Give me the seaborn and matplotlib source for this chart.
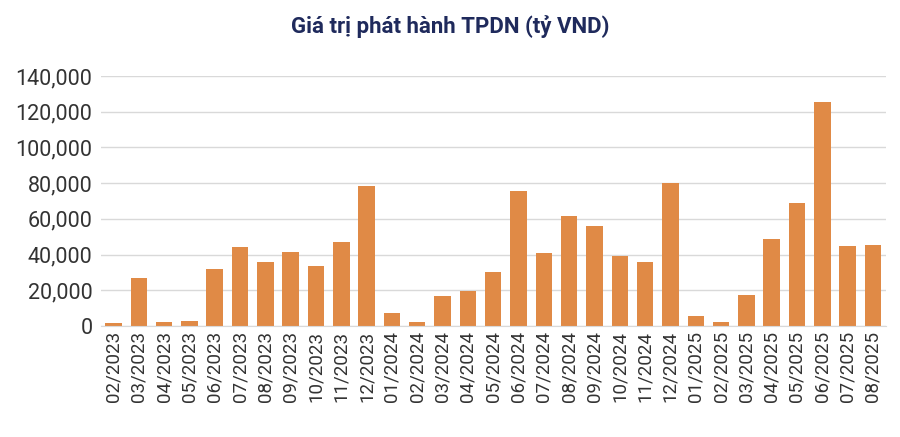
import matplotlib
matplotlib.use("Agg")
import matplotlib.pyplot as plt
import seaborn as sns
import pandas as pd
from matplotlib.ticker import FuncFormatter

plt.rcParams["font.family"] = "Roboto"

months = ["02/2023","03/2023","04/2023","05/2023","06/2023","07/2023","08/2023","09/2023","10/2023","11/2023","12/2023",
          "01/2024","02/2024","03/2024","04/2024","05/2024","06/2024","07/2024","08/2024","09/2024","10/2024","11/2024","12/2024",
          "01/2025","02/2025","03/2025","04/2025","05/2025","06/2025","07/2025","08/2025"]
values = [1500,27000,2000,3000,32000,44000,36000,41500,33500,47000,78500,
          7500,2000,17000,19500,30000,75500,41000,61500,56000,39000,36000,80000,
          5500,2500,17500,49000,69000,125500,45000,45500]

df = pd.DataFrame({"month": months, "value": values})
fig = plt.figure(figsize=(9, 4.37), dpi=100)
ax = fig.add_axes([0.112, 0.254, 0.872, 0.572])
sns.barplot(data=df, x="month", y="value", color="#E08A46", saturation=1, width=0.65, ax=ax)
ax.set_ylim(0, 140000)
ax.set_yticks(range(0, 140001, 20000))
ax.yaxis.set_major_formatter(FuncFormatter(lambda v, p: f"{int(v):,}"))
ax.grid(axis="y", color="#D9D9D9", linewidth=1)
ax.set_axisbelow(True)
for s in ["top", "right", "left"]:
    ax.spines[s].set_visible(False)
ax.spines["bottom"].set_color("#D9D9D9")
ax.tick_params(axis="y", length=0, labelsize=15.5, labelcolor="#333333", pad=6)
ax.tick_params(axis="x", length=0, labelsize=13.5, labelrotation=90, labelcolor="#333333")
ax.set_xlim(-0.5, len(months) - 0.5)
ax.set_xlabel("")
ax.set_ylabel("")
fig.suptitle("Giá trị phát hành TPDN (tỷ VND)", x=0.5, y=0.965, fontsize=16, fontweight="bold", color="#1F2A5C")
fig.savefig("out.png", dpi=100)
